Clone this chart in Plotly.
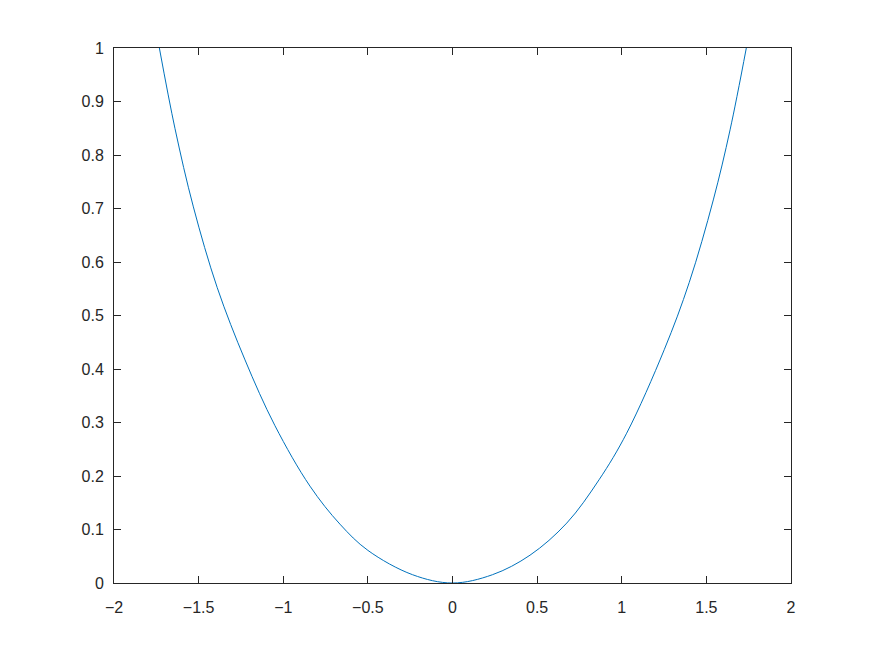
import plotly.graph_objects as go

# points (x, y)
x_vals = [-1.732, -1.640, -1.531, -1.390, -1.226, -1.049, -0.842, -0.665, -0.500, -0.236,
          0.000, 0.236, 0.458, 0.675, 0.866, 1.029, 1.251, 1.399, 1.541, 1.640, 1.736]
y_vals = [1.000, 0.850, 0.703, 0.552, 0.417, 0.294, 0.181, 0.110, 0.061, 0.0155,
          0.000, 0.0155, 0.052, 0.112, 0.193, 0.280, 0.436, 0.562, 0.716, 0.847, 1.000]

x_ticks = [-2, -1.5, -1, -0.5, 0, 0.5, 1, 1.5, 2]
y_ticks = [0, 0.1, 0.2, 0.3, 0.4, 0.5, 0.6, 0.7, 0.8, 0.9, 1]

axis_col = "#262626"

fig = go.Figure()
fig.add_trace(go.Scatter(x=x_vals, y=y_vals, mode="lines",
                         line=dict(color="#0072BD", width=1, shape="spline", smoothing=1),
                         hoverinfo="skip"))

axis_common = dict(showgrid=False, zeroline=False, showline=True, linecolor=axis_col,
                   linewidth=1, mirror="allticks", ticks="inside", ticklen=7,
                   tickcolor=axis_col, tickwidth=1,
                   tickfont=dict(family="Liberation Sans, Arial", size=16, color=axis_col))

# page body has an 8px margin, so the margins are shifted by that much
fig.update_layout(
    width=875, height=656,
    margin=dict(l=106, r=92, t=40, b=81),
    paper_bgcolor="white", plot_bgcolor="white",
    showlegend=False,
    xaxis=dict(range=[-2, 2], tickvals=x_ticks, ticklabelstandoff=10, **axis_common),
    yaxis=dict(range=[0, 1], tickvals=y_ticks, ticklabelstandoff=6, **axis_common),
)

fig.write_html("out.html")
